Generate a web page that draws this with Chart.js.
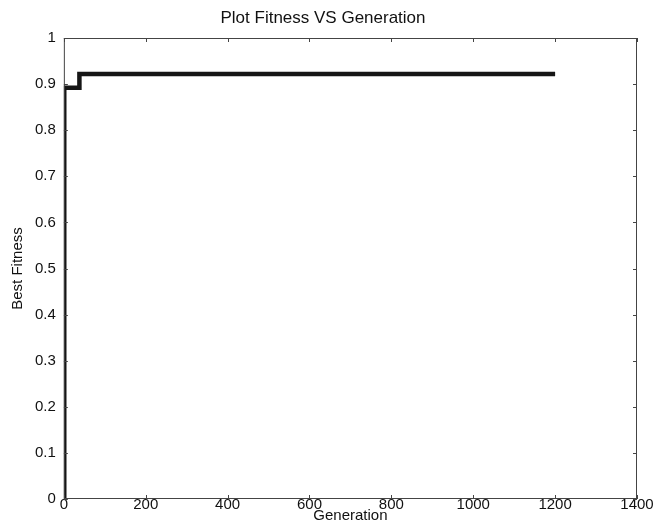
<!DOCTYPE html>
<html>
<head>
<meta charset="utf-8">
<script src="https://cdn.jsdelivr.net/npm/chart.js@4/dist/chart.umd.min.js"></script>
<style>
html,body{margin:0;padding:0;background:#fff;}
#c{display:block;}
</style>
</head>
<body>
<canvas id="c" width="653" height="531"></canvas>
<script>
const generations = [0, 1, 38, 1200];
const bestFitness = [0, 0.892, 0.922, 0.922];
const xTicks = [0, 200, 400, 600, 800, 1000, 1200, 1400];
const yTicks = [0, 0.1, 0.2, 0.3, 0.4, 0.5, 0.6, 0.7, 0.8, 0.9, 1];

const FONT = "'Liberation Sans', Arial, Helvetica, sans-serif";

const boxTicks = {
  id: 'boxTicks',
  afterDatasetsDraw(chart) {
    const {ctx, chartArea: a, scales: {x, y}} = chart;
    ctx.save();
    ctx.strokeStyle = '#444';
    ctx.lineWidth = 1;
    ctx.strokeRect(a.left + 0.5, a.top + 0.5, a.right - a.left - 1, a.bottom - a.top - 1);
    const L = 4;
    ctx.beginPath();
    xTicks.forEach(v => {
      const px = Math.round(x.getPixelForValue(v)) + 0.5;
      ctx.moveTo(px, a.bottom); ctx.lineTo(px, a.bottom - L);
      ctx.moveTo(px, a.top); ctx.lineTo(px, a.top + L);
    });
    yTicks.forEach(v => {
      const py = Math.round(y.getPixelForValue(v)) + 0.5;
      ctx.moveTo(a.left, py); ctx.lineTo(a.left + L, py);
      ctx.moveTo(a.right, py); ctx.lineTo(a.right - L, py);
    });
    ctx.stroke();
    ctx.restore();
  }
};

new Chart(document.getElementById('c'), {
  type: 'line',
  data: {
    datasets: [{
      data: generations.map((g, i) => ({x: g, y: bestFitness[i]})),
      borderColor: '#161616',
      borderWidth: 4.5,
      pointRadius: 0,
      stepped: 'before',
      fill: false,
      tension: 0
    }]
  },
  options: {
    responsive: false,
    animation: false,
    devicePixelRatio: 1,
    layout: {padding: {left: 9, right: 16, top: 0, bottom: 0}},
    plugins: {
      legend: {display: false},
      tooltip: {enabled: false},
      title: {
        display: true,
        text: 'Plot Fitness VS Generation',
        color: '#111',
        font: {family: FONT, size: 17, weight: 'normal'},
        padding: {top: 8, bottom: 9.6}
      }
    },
    scales: {
      x: {
        type: 'linear',
        min: 0, max: 1400,
        afterBuildTicks: s => { s.ticks = xTicks.map(v => ({value: v})); },
        afterFit: s => { s.paddingRight = 0; },
        ticks: {color: '#111', font: {family: FONT, size: 15}, padding: -3, maxRotation: 0,
                callback: v => String(v)},
        grid: {display: false, drawTicks: false},
        border: {display: false},
        title: {display: true, text: 'Generation', color: '#111',
                font: {family: FONT, size: 15}, padding: {top: -4, bottom: 6}}
      },
      y: {
        type: 'linear',
        min: 0, max: 1,
        afterBuildTicks: s => { s.ticks = yTicks.map(v => ({value: v})); },
        ticks: {color: '#111', font: {family: FONT, size: 15}, padding: 8,
                callback: v => String(Math.round(v * 10) / 10)},
        grid: {display: false, drawTicks: false},
        border: {display: false},
        title: {display: true, text: 'Best Fitness', color: '#111',
                font: {family: FONT, size: 15}, padding: {top: 0, bottom: 0}}
      }
    }
  },
  plugins: [boxTicks]
});
</script>
</body>
</html>
